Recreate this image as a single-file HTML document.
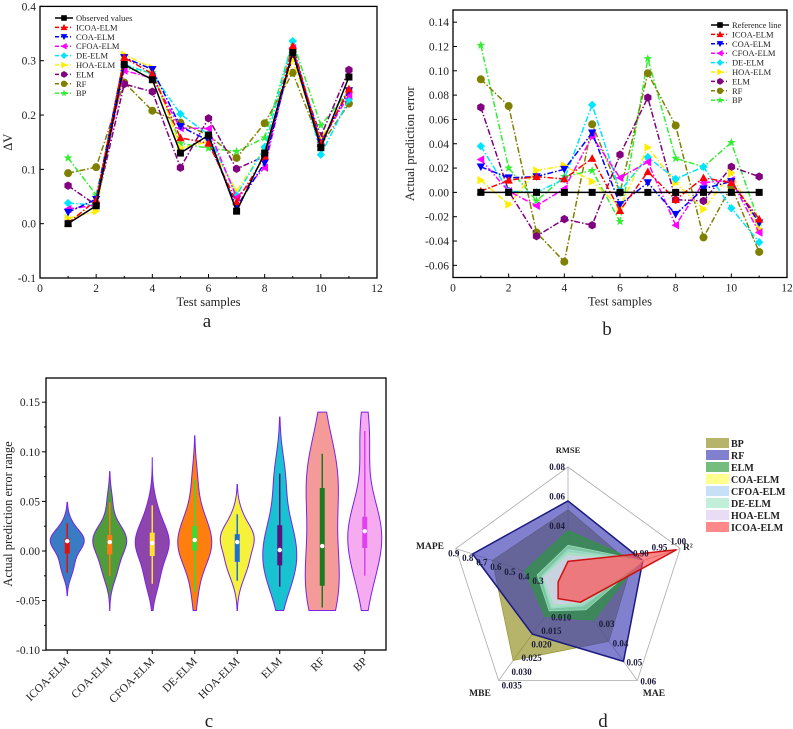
<!DOCTYPE html>
<html><head><meta charset="utf-8">
<style>
html,body{margin:0;padding:0;background:#fff;}
svg{display:block;font-family:"Liberation Serif",serif;}
</style></head>
<body>
<svg id="fig" width="793" height="729" viewBox="0 0 793 729" xmlns="http://www.w3.org/2000/svg"></svg>
<script>
// ---------- data ----------
const samples = [1,2,3,4,5,6,7,8,9,10,11];
const modelNames = ["ICOA-ELM","COA-ELM","CFOA-ELM","DE-ELM","HOA-ELM","ELM","RF","BP"];
const observedValues = [0, 0.033, 0.293, 0.265, 0.130, 0.163, 0.023, 0.130, 0.315, 0.140, 0.270];
const predICOA = [0.001,0.043,0.306,0.276,0.158,0.148,0.040,0.124,0.327,0.148,0.248];
const predCOA  = [0.021,0.045,0.306,0.284,0.179,0.153,0.031,0.112,0.318,0.149,0.245];
const predCFOA = [0.027,0.034,0.282,0.268,0.176,0.175,0.048,0.103,0.323,0.150,0.237];
const predDE   = [0.038,0.034,0.293,0.276,0.202,0.164,0.052,0.141,0.336,0.127,0.229];
const predHOA  = [0.010,0.023,0.311,0.287,0.139,0.151,0.060,0.138,0.301,0.156,0.240];
const predELM  = [0.070,0.034,0.257,0.243,0.103,0.194,0.101,0.124,0.308,0.161,0.283];
const predRF   = [0.093,0.104,0.260,0.208,0.186,0.163,0.121,0.185,0.278,0.145,0.221];
const predBP   = [0.121,0.053,0.286,0.278,0.148,0.139,0.133,0.158,0.336,0.181,0.245];
const referenceLine = [0,0,0,0,0,0,0,0,0,0,0];
const errICOA = [0.001,0.010,0.013,0.011,0.028,-0.015,0.017,-0.006,0.012,0.008,-0.022];
const errCOA  = [0.021,0.012,0.013,0.019,0.049,-0.010,0.008,-0.018,0.003,0.009,-0.025];
const errCFOA = [0.027,0.001,-0.011,0.003,0.046,0.012,0.025,-0.027,0.008,0.010,-0.033];
const errDE   = [0.038,0.001,0.000,0.011,0.072,0.001,0.029,0.011,0.021,-0.013,-0.041];
const errHOA  = [0.010,-0.010,0.018,0.022,0.009,-0.012,0.037,0.008,-0.014,0.016,-0.030];
const errELM  = [0.070,0.001,-0.036,-0.022,-0.027,0.031,0.078,-0.006,-0.007,0.021,0.013];
const errRF   = [0.093,0.071,-0.033,-0.057,0.056,0.000,0.098,0.055,-0.037,0.005,-0.049];
const errBP   = [0.121,0.020,-0.007,0.013,0.018,-0.024,0.110,0.028,0.021,0.041,-0.025];
const violinMin = [-0.045,-0.06,-0.06,-0.06,-0.06,-0.06,-0.06,-0.06];
const violinMax = [0.049,0.080,0.094,0.116,0.067,0.135,0.14,0.14];
const radarAxes = ["RMSE","R²","MAE","MBE","MAPE"];
const radarMin = [0,0.7,0.01,0,0.1];
const radarMax = [0.08,1.0,0.06,0.035,0.9];
const radarBP   = [0.051,0.87,0.0395,0.0277,0.64];
const radarRF   = [0.057,0.90,0.050,0.018,0.78];
const radarELM  = [0.037,0.89,0.0285,0.0116,0.41];
const radarCOA  = [0.022,0.90,0.020,0.0080,0.28];
const radarCFOA = [0.024,0.90,0.021,0.0085,0.29];
const radarDE   = [0.027,0.90,0.023,0.0095,0.32];
const radarHOA  = [0.020,0.90,0.019,0.0070,0.27];
const radarICOA = [0.016,0.99,0.019,0.005,0.17];

const NS="http://www.w3.org/2000/svg";
const svg=document.getElementById('fig');
function el(tag,attrs,parent,text){const e=document.createElementNS(NS,tag);for(const k in attrs)e.setAttribute(k,attrs[k]);if(text!==undefined)e.textContent=text;(parent||svg).appendChild(e);return e;}
function txt(x,y,s,size,anchor,parent,extra){const t=el('text',Object.assign({x:x,y:y,'font-size':size,'text-anchor':anchor||'middle',fill:'#222'},extra||{}),parent,s);return t;}

const lineColors=["#ff0000","#0000ff","#ff00ff","#00e5ff","#ffee00","#800080","#808000","#33ee33"];
const markerKinds=["tri-up","tri-down","tri-left","diamond","tri-right","hexagon","circle","star"];
function marker(kind,x,y,c,g){
  const s=4.2;let p;
  if(kind==="square")return el('rect',{x:x-3.5,y:y-3.5,width:7,height:7,fill:c},g);
  if(kind==="circle")return el('circle',{cx:x,cy:y,r:4,fill:c},g);
  if(kind==="tri-up")p=[[0,-s],[s,s*0.8],[-s,s*0.8]];
  else if(kind==="tri-down")p=[[0,s],[s,-s*0.8],[-s,-s*0.8]];
  else if(kind==="tri-left")p=[[-s,0],[s*0.8,-s],[s*0.8,s]];
  else if(kind==="tri-right")p=[[s,0],[-s*0.8,-s],[-s*0.8,s]];
  else if(kind==="diamond")p=[[0,-s],[s,0],[0,s],[-s,0]];
  else if(kind==="hexagon"){p=[];for(let i=0;i<6;i++){const a=Math.PI/6+i*Math.PI/3;p.push([s*Math.cos(a),s*Math.sin(a)]);}}
  else if(kind==="star"){p=[];for(let i=0;i<10;i++){const a=-Math.PI/2+i*Math.PI/5,r=i%2?s*0.45:s*1.1;p.push([r*Math.cos(a),r*Math.sin(a)]);}}
  return el('polygon',{points:p.map(q=>(x+q[0])+','+(y+q[1])).join(' '),fill:c},g);
}

// ---------- line panel helper ----------
function linePanel(cfg){
  const g=el('g',{});
  
  
  const X=v=>cfg.x0+(v-0)*(cfg.x1-cfg.x0)/12;
  const Y=v=>cfg.yb-(v-cfg.ymin)*(cfg.yb-cfg.yt)/(cfg.ymax-cfg.ymin);
  el('rect',{x:cfg.x0,y:cfg.yt,width:cfg.x1-cfg.x0,height:cfg.yb-cfg.yt,fill:'none',stroke:'#000','stroke-width':1.3},g);
  for(let v=0;v<=12;v+=2){const x=X(v);el('line',{x1:x,x2:x,y1:cfg.yb,y2:cfg.yb-4,stroke:'#000'},g);txt(x,cfg.yb+14,String(v),11.5,'middle',g);}
  for(let v=1;v<12;v+=2){const x=X(v);el('line',{x1:x,x2:x,y1:cfg.yb,y2:cfg.yb-2,stroke:'#000'},g);}
  cfg.yticks.forEach(v=>{const y=Y(v);el('line',{x1:cfg.x0,x2:cfg.x0+4,y1:y,y2:y,stroke:'#000'},g);txt(cfg.x0-4,y+4,v.toFixed(cfg.dec),11.5,'end',g);});
  const xl=txt((cfg.x0+cfg.x1)/2,cfg.yb+28,'Test samples',12.5,'middle',g);
  
  const yl=txt(0,0,cfg.ylabel,12.5,'middle',g,{transform:`translate(${cfg.ylx},${(cfg.yt+cfg.yb)/2}) rotate(-90)`});
  
  const all=[{n:cfg.firstName,d:cfg.first,c:'#000',m:'square',solid:true}].concat(cfg.series.map((d,i)=>({n:modelNames[i],d:d,c:lineColors[i],m:markerKinds[i]})));
  for(let k=all.length-1;k>=0;k--){
    const s=all[k];const sg=el('g',{},g);
    
    
    el('polyline',{points:s.d.map((v,i)=>X(samples[i])+','+Y(v)).join(' '),fill:'none',stroke:s.c,'stroke-width':1.5,'stroke-dasharray':s.solid?'none':'6,2,1.5,2'},sg);
    s.d.forEach((v,i)=>marker(s.m,X(samples[i]),Y(v),s.c,sg));
  }
  const lg=el('g',{},g);
  
  
  all.forEach((s,i)=>{const y=cfg.ly+i*9.4;
    const e=el('g',{},lg);
    
    
    el('line',{x1:cfg.lx,x2:cfg.lx+18,y1:y,y2:y,stroke:s.c,'stroke-width':1.5,'stroke-dasharray':s.solid?'none':'4,2,1,2'},e);
    marker(s.m,cfg.lx+9,y,s.c,e).setAttribute('transform',`translate(${cfg.lx+9},${y}) scale(0.8) translate(${-(cfg.lx+9)},${-y})`);
    txt(cfg.lx+21,y+3,s.n,8.5,'start',e);
  });
  const lab=txt(cfg.labx,cfg.laby,cfg.label,19,'middle',g);
  
}
linePanel({name:'panel-a-chart',x0:40,x1:377,yt:6.4,yb:278,ymin:-0.1,ymax:0.4,yticks:[-0.1,0,0.1,0.2,0.3,0.4],dec:1,
  ylabel:'ΔV',ylx:12,firstName:'Observed values',first:observedValues,
  series:[predICOA,predCOA,predCFOA,predDE,predHOA,predELM,predRF,predBP],lx:55,ly:18,label:'a',labx:207,laby:327});
linePanel({name:'panel-b-chart',x0:453,x1:787,yt:10,yb:277.5,ymin:-0.07,ymax:0.15,yticks:[-0.06,-0.04,-0.02,0,0.02,0.04,0.06,0.08,0.10,0.12,0.14],dec:2,
  ylabel:'Actual prediction error',ylx:414,firstName:'Reference line',first:referenceLine,
  series:[errICOA,errCOA,errCFOA,errDE,errHOA,errELM,errRF,errBP],lx:711,ly:25,label:'b',labx:607,laby:335});

// ---------- panel c violins ----------
(function(){
  const g=el('g',{});
  
  
  const L=46,R=386,T=378,B=650;
  const Y=v=>551-v*992;
  const bw=(R-L)/8;const X=i=>L+bw*(i+0.5);
  const errs=[errICOA,errCOA,errCFOA,errDE,errHOA,errELM,errRF,errBP];
  const fills=["#3a7cc4","#4e9c3a","#8e44ad","#ff7f0e","#f6f23c","#19c2d0","#f49a98","#f6aaf0"];
  const boxc=["#e01010","#ff7a10","#ffe033","#33dd33","#1f6fd0","#5a127e","#1e7a1e","#e040f0"];
  el('rect',{x:L,y:T,width:R-L,height:B-T,fill:'none',stroke:'#000','stroke-width':1.3},g);
  [-0.10,-0.05,0,0.05,0.10,0.15].forEach(v=>{const y=Y(v);el('line',{x1:L-4,x2:L,y1:y,y2:y,stroke:'#000'},g);txt(L-6,y+4,v.toFixed(2),11.5,'end',g);});
  [-0.075,-0.025,0.025,0.075,0.125].forEach(v=>{const y=Y(v);el('line',{x1:L-2,x2:L,y1:y,y2:y,stroke:'#000'},g);});
  const yl=txt(0,0,'Actual prediction error range',12.5,'middle',g,{transform:`translate(12,${(T+B)/2}) rotate(-90)`});
  
  errs.forEach((d,i)=>{
    const vg=el('g',{},g);
    
    
    const n=d.length,mean=d.reduce((a,b)=>a+b,0)/n;
    const sd=Math.sqrt(d.reduce((a,b)=>a+(b-mean)*(b-mean),0)/(n-1));
    const h=0.65*sd;
    const lo=violinMin[i],hi=violinMax[i],steps=60,dens=[];
    for(let k=0;k<=steps;k++){const v=lo+(hi-lo)*k/steps;let s=0;d.forEach(x=>{s+=Math.exp(-0.5*((v-x)/h)**2);});dens.push([v,s]);}
    const mx=Math.max(...dens.map(q=>q[1]));const cx=X(i);
    const pts=dens.map(q=>(cx+q[1]/mx*17)+','+Y(q[0])).concat(dens.slice().reverse().map(q=>(cx-q[1]/mx*17)+','+Y(q[0])));
    el('polygon',{points:pts.join(' '),fill:fills[i],stroke:'#7a22e6','stroke-width':1},vg);
    const s=d.slice().sort((a,b)=>a-b);
    const q=p=>{const idx=(n-1)*p,lo2=Math.floor(idx),f=idx-lo2;return s[lo2]+(s[Math.min(lo2+1,n-1)]-s[lo2])*f;};
    el('line',{x1:cx,x2:cx,y1:Y(s[0]),y2:Y(s[n-1]),stroke:boxc[i],'stroke-width':1.5},vg);
    el('rect',{x:cx-2.5,y:Y(q(0.75)),width:5,height:Y(q(0.25))-Y(q(0.75)),fill:boxc[i]},vg);
    el('circle',{cx:cx,cy:Y(q(0.5)),r:2.2,fill:'#fff'},vg);
    el('line',{x1:cx,x2:cx,y1:B,y2:B+4,stroke:'#000'},g);
    txt(0,0,modelNames[i],11.5,'end',g,{transform:`translate(${cx+3},${B+12}) rotate(-45)`});
  });
  const lab=txt(209,727,'c',19,'middle',g);
  
})();

// ---------- panel d radar ----------
(function(){
  const g=el('g',{});
  
  
  const cx=568,cy=585,Rr=118;
  const ang=i=>(-90+72*i)*Math.PI/180;
  const P=(i,f)=>[cx+Rr*f*Math.cos(ang(i)),cy+Rr*f*Math.sin(ang(i))];
  const frac=(i,v)=>(v-radarMin[i])/(radarMax[i]-radarMin[i]);
  el('polygon',{points:[0,1,2,3,4].map(i=>P(i,1).join(',')).join(' '),fill:'none',stroke:'#aaa','stroke-width':0.8},g);
  [0,1,2,3,4].forEach(i=>{const p=P(i,1);el('line',{x1:cx,y1:cy,x2:p[0],y2:p[1],stroke:'#aaa','stroke-width':0.8},g);});
  const series=[["BP",radarBP,"#8f8b1c",null],["RF",radarRF,"#3c3cb4","#1a1a80"],["ELM",radarELM,"#2a9a3a",null],["COA-ELM",radarCOA,"#ffff55",null],
    ["CFOA-ELM",radarCFOA,"#a9cff2",null],["DE-ELM",radarDE,"#a2e6c6",null],["HOA-ELM",radarHOA,"#dccbee",null],["ICOA-ELM",radarICOA,"#ff4a4a","#d01010"]];
  series.forEach(s=>{
    const poly=el('polygon',{points:s[1].map((v,i)=>P(i,frac(i,v)).join(',')).join(' '),fill:s[2],'fill-opacity':0.65,stroke:s[3]||s[2],'stroke-width':s[3]?1.5:0.6},g);
    
    
  });
  const tickSets=[[0.04,0.06,0.08],[0.90,0.95,1.00],[0.03,0.04,0.05,0.06],[0.010,0.015,0.020,0.025,0.030,0.035],[0.3,0.4,0.5,0.6,0.7,0.8,0.9]];
  const decs=[2,2,2,3,1];
  const offs=[[-3,3,'end'],[-2,-4,'middle'],[3,4,'start'],[3,8,'start'],[-2,8,'middle']];
  tickSets.forEach((ts,i)=>ts.forEach(v=>{const p=P(i,frac(i,v));txt(p[0]+offs[i][0],p[1]+offs[i][1],v.toFixed(decs[i]),9,offs[i][2],g,{'font-weight':'bold',fill:'#1a1a3a'});}));
  const lp=[[568,453,'middle'],[683,550,'start'],[654,696,'middle'],[480,696,'middle'],[430,549,'middle']];
  radarAxes.forEach((a,i)=>{const t=txt(lp[i][0],lp[i][1],a,i===0?8.5:9.5,lp[i][2],g,{'font-weight':'bold'});
    });
  const lg=el('g',{},g);
  
  
  series.forEach((s,k)=>{const y=443+k*12;
    const e=el('g',{},lg);
    
    
    el('rect',{x:706,y:y-5,width:23,height:10,fill:s[2],'fill-opacity':0.65},e);
    txt(731,y+4,s[0],10,'start',e,{'font-weight':'bold'});
  });
  const lab=txt(603,727,'d',19,'middle',g);
  
})();
</script>
</body></html>
